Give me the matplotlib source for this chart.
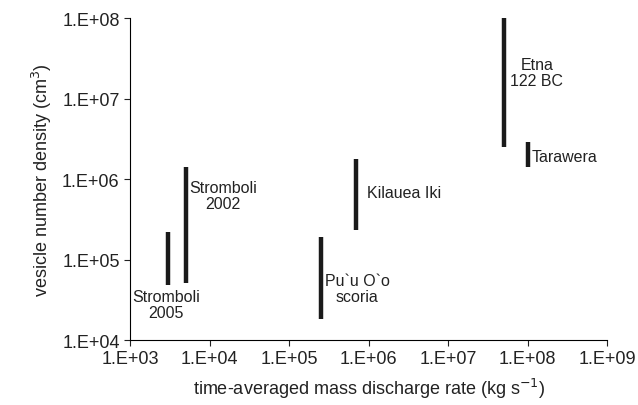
import math
import matplotlib
matplotlib.use("Agg")
import matplotlib.pyplot as plt
from matplotlib.ticker import FuncFormatter, NullLocator

plt.rcParams['font.family'] = ['Liberation Sans', 'DejaVu Sans']

# data
names = ["Stromboli\n2005", "Stromboli\n2002", "Pu`u O`o\nscoria", "Kilauea Iki", "Etna\n122 BC", "Tarawera"]
rate = [3e3, 5e3, 2.5e5, 7e5, 5e7, 1e8]
vnd_low = [4.8e4, 5.1e4, 1.8e4, 2.3e5, 2.5e6, 1.4e6]
vnd_high = [2.2e5, 1.4e6, 1.9e5, 1.8e6, 1e8, 2.9e6]

fig = plt.figure(figsize=(6.38, 4.06), dpi=100)
ax = fig.add_axes([0.204, 0.16, 0.748, 0.793])

for x, lo, hi in zip(rate, vnd_low, vnd_high):
    ax.plot([x, x], [lo, hi], color="#1a1a1a", lw=3.2, solid_capstyle="butt")

# labels
kw = dict(fontsize=11.5, linespacing=1.1, color="#222222")
ax.text(2.8e3, 4.3e4, names[0], ha="center", va="top", **kw)
ax.text(5.5e3, 6.3e5, names[1], ha="left", va="center", multialignment="center", **kw)
ax.text(2.8e5, 4.4e4, names[2], ha="left", va="center", multialignment="center", **kw)
ax.text(9.4e5, 6.8e5, names[3], ha="left", va="center", **kw)
ax.text(6e7, 2.1e7, names[4], ha="left", va="center", multialignment="center", **kw)
ax.text(1.12e8, 1.9e6, names[5], ha="left", va="center", **kw)

ax.set_xscale("log")
ax.set_yscale("log")
ax.set_xlim(1e3, 1e9)
ax.set_ylim(1e4, 1e8)
fmt = FuncFormatter(lambda v, p: "1.E+%02d" % round(math.log10(v)))
ax.xaxis.set_major_formatter(fmt)
ax.yaxis.set_major_formatter(fmt)
ax.xaxis.set_minor_locator(NullLocator())
ax.yaxis.set_minor_locator(NullLocator())
ax.tick_params(direction="out", labelsize=13, length=4, colors="#222222")
for s in ["top", "right"]:
    ax.spines[s].set_visible(False)

ax.set_xlabel("time-averaged mass discharge rate (kg s$^{-1}$)", fontsize=13, labelpad=6, color="#222222")
ax.set_ylabel("vesicle number density (cm$^{3}$)", fontsize=13, labelpad=6, color="#222222")

fig.savefig("out.png", dpi=100)
